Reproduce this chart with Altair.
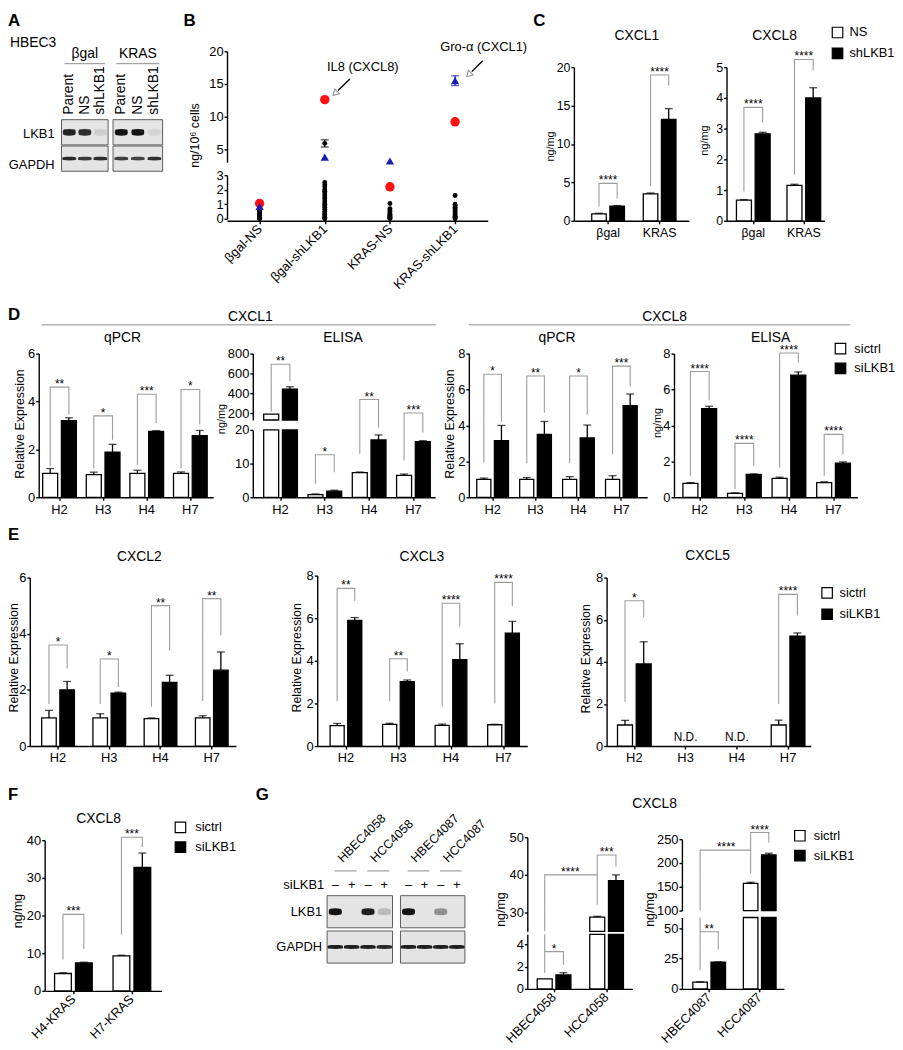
import altair as alt
import pandas as pd

OFF = 8
W, H = 895, 1042
FONT = "Liberation Sans"
BRK = "#9c9c9c"
ONE = pd.DataFrame({"k": [0]})

# ------------------------------------------------------------------ DATA
# A : western blot, relative band intensity per lane
A_GROUPS = ["βgal", "KRAS"]
A_LANES = ["Parent", "NS", "shLKB1"]
A_LKB1 = [[0.92, 0.88, 0.10], [1.0, 1.0, 0.08]]
A_GAPDH = [[0.90, 0.82, 0.88], [0.80, 0.78, 0.88]]

# B : cytokine array (ng/10^6 cells)
B_CATS = ["βgal-NS", "βgal-shLKB1", "KRAS-NS", "KRAS-shLKB1"]
B_OTHER = [
    [0.0, 0.03, 0.06, 0.1, 0.14, 0.18, 0.22, 0.28, 0.34, 0.4, 0.46, 0.52, 0.6, 0.7, 0.8],
    [0.0, 0.05, 0.1, 0.2, 0.3, 0.4, 0.5, 0.65, 0.8, 0.9, 1.0, 1.1, 1.25, 1.4, 1.5,
     1.65, 1.8, 1.9, 2.0, 2.2, 2.35, 2.5, 5.9],
    [0.0, 0.04, 0.08, 0.12, 0.18, 0.25, 0.32, 0.4, 0.5, 0.6, 0.7, 1.05],
    [0.0, 0.05, 0.1, 0.15, 0.2, 0.3, 0.4, 0.5, 0.6, 0.7, 0.8, 0.9, 1.0, 1.6],
]
B_OTHER_ERR_CAT = ["βgal-shLKB1"]
B_OTHER_ERR_MEAN = [5.9]
B_OTHER_ERR_SD = [0.55]
B_IL8 = [1.05, 12.6, 2.2, 9.2]
B_GRO = [0.85, 3.8, 3.2, 15.5]
B_GRO_SD = [0.0, 0.0, 0.0, 0.75]

# C : ELISA HBEC3
C_CATS = ["βgal", "KRAS"]
C_SERS = ["NS", "shLKB1"]
C1_NS, C1_NS_SD = [0.9, 3.5], [0.08, 0.12]
C1_SH, C1_SH_SD = [1.9, 13.2], [0.08, 1.4]
C1_BR = [("βgal", 4.87, 1.85, 2.9, "****"), ("KRAS", 18.97, 4.5, 17.6, "****")]
C8_NS, C8_NS_SD = [0.67, 1.15], [0.02, 0.04]
C8_SH, C8_SH_SD = [2.83, 4.0], [0.05, 0.33]
C8_BR = [("βgal", 3.69, 0.95, 3.2, "****"), ("KRAS", 5.25, 1.5, 4.9, "****")]

# D
H_CATS = ["H2", "H3", "H4", "H7"]
SI_SERS = ["sictrl", "siLKB1"]
D1Q_C, D1Q_C_SD = [1.0, 0.95, 1.0, 1.0], [0.2, 0.1, 0.13, 0.06]
D1Q_S, D1Q_S_SD = [3.2, 1.88, 2.75, 2.57], [0.12, 0.33, 0.03, 0.22]
D1Q_BR = [("H2", 4.6, 1.3, 3.45, "**"), ("H3", 3.4, 1.2, 2.4, "*"),
          ("H4", 4.3, 1.35, 3.1, "***"), ("H7", 4.5, 1.2, 3.05, "*")]
D1E_C, D1E_C_SD = [190.0, 0.8, 7.3, 6.5], [0.0, 0.2, 0.2, 0.4]
D1E_S, D1E_S_SD = [440.0, 1.8, 17.0, 16.5], [25.0, 0.3, 1.5, 0.3]
D1E_BR_LOW = [("H3", 12.6, 4.1, 7.4, "*"), ("H4", 29.0, 12.9, 20.6, "**"),
              ("H7", 25.0, 10.9, 19.2, "***")]
D1E_BR_UP = [("H2", 693.0, 215.0, 520.0, "**")]
D8Q_C, D8Q_C_SD = [1.0, 1.0, 1.0, 1.0], [0.07, 0.1, 0.15, 0.2]
D8Q_S, D8Q_S_SD = [3.15, 3.5, 3.3, 5.1], [0.85, 0.72, 0.72, 0.65]
D8Q_BR = [("H2", 6.85, 1.93, 4.2, "*"), ("H3", 6.75, 1.9, 4.7, "**"),
          ("H4", 6.75, 1.9, 4.6, "*"), ("H7", 7.3, 2.4, 6.15, "***")]
D8E_C, D8E_C_SD = [0.78, 0.22, 1.05, 0.82], [0.04, 0.03, 0.07, 0.04]
D8E_S, D8E_S_SD = [4.93, 1.27, 6.8, 1.9], [0.14, 0.03, 0.18, 0.07]
D8E_BR = [("H2", 7.0, 1.2, 5.4, "****"), ("H3", 3.0, 0.46, 1.75, "****"),
          ("H4", 8.03, 1.65, 7.5, "****"), ("H7", 3.5, 1.2, 2.4, "****")]

# E
E2_C, E2_C_SD = [1.0, 1.0, 0.98, 1.0], [0.27, 0.15, 0.02, 0.08]
E2_S, E2_S_SD = [2.0, 1.88, 2.27, 2.7], [0.3, 0.04, 0.25, 0.65]
E2_BR = [("H2", 3.6, 1.5, 2.76, "*"), ("H3", 3.1, 1.5, 2.1, "*"),
         ("H4", 5.0, 1.4, 3.4, "**"), ("H7", 5.25, 1.6, 3.95, "**")]
E3_C, E3_C_SD = [0.96, 1.02, 0.97, 1.0], [0.1, 0.05, 0.06, 0.02]
E3_S, E3_S_SD = [5.9, 3.02, 4.05, 5.3], [0.13, 0.08, 0.75, 0.55]
E3_BR = [("H2", 7.4, 2.1, 6.8, "**"), ("H3", 4.1, 2.1, 3.5, "**"),
         ("H4", 6.7, 1.85, 5.6, "****"), ("H7", 7.68, 2.0, 6.56, "****")]
E5_C, E5_C_SD = [1.0, None, None, 1.0], [0.22, 0.0, 0.0, 0.23]
E5_S, E5_S_SD = [3.9, None, None, 5.22], [1.05, 0.0, 0.0, 0.15]
E5_BR = [("H2", 6.9, 2.1, 6.1, "*"), ("H7", 7.2, 2.0, 6.2, "****")]
E5_ND = [("H3", 0.42, "N.D."), ("H4", 0.42, "N.D.")]

# F
F_CATS = ["H4-KRAS", "H7-KRAS"]
F_C, F_C_SD = [4.6, 9.3], [0.2, 0.15]
F_S, F_S_SD = [7.4, 32.8], [0.2, 3.8]
F_BR = [("H4-KRAS", 20.3, 8.3, 11.1, "***"), ("H7-KRAS", 40.8, 14.9, 38.2, "***")]

# G
G_CELLS = ["HBEC4058", "HCC4058", "HBEC4087", "HCC4087"]
G_SI = ["–", "+", "–", "+"]
G_LKB1 = [[1.0, 0.0, 0.95, 0.2], [1.0, 0.0, 0.4, 0.0]]
G_GAPDH = [[0.95, 0.95, 0.95, 0.9], [0.95, 0.95, 0.95, 0.95]]
GL_CATS = ["HBEC4058", "HCC4058"]
GL_C, GL_C_SD = [0.9, 28.8], [0.0, 0.2]
GL_S, GL_S_SD = [1.25, 38.5], [0.2, 1.5]
GL_BR_LOW = [("HBEC4058", 3.35, 1.42, 2.16, "*")]
GL_POLY_LOW = [dict(pts=[("HBEC4058", 0, 4.9), ("HBEC4058", 0, 3.35)])]
GL_BR_UP = [("HCC4058", 45.3, 40.0, 42.2, "***")]
GL_POLY_UP = [dict(pts=[("HBEC4058", 0, 25.0), ("HBEC4058", 0, 40.0),
                        ("HCC4058", 0, 40.0), ("HCC4058", 0, 32.1)],
                   lab="****", star=("HBEC4058", 1, 40.0, 7))]
GR_CATS = ["HBEC4087", "HCC4087"]
GR_C, GR_C_SD = [5.5, 157.0], [0.3, 2.5]
GR_S, GR_S_SD = [22.0, 217.0], [0.3, 3.5]
GR_BR_LOW = [("HBEC4087", 47.2, 15.5, 32.6, "**")]
GR_POLY_LOW = [dict(pts=[("HBEC4087", 0, 59.0), ("HBEC4087", 0, 47.2)])]
GR_BR_UP = [("HCC4087", 264.0, 227.0, 243.0, "****")]
GR_POLY_UP = [dict(pts=[("HBEC4087", 0, 100.0), ("HBEC4087", 0, 227.0),
                        ("HCC4087", 0, 227.0), ("HCC4087", 0, 178.5)],
                   lab="****", star=("HBEC4087", 1, 227.0, 8))]


# ------------------------------------------------------------------ helpers
def P(v):
    return v - OFF


AX = dict(domainColor="black", tickColor="black", labelColor="black", domainWidth=1.4,
          tickWidth=1.4, tickSize=3, labelFont=FONT, grid=False,
          title=None, labelOverlap=False)


def xaxis(yb, angle=0, size=13):
    kw = dict(AX)
    if angle:
        kw.update(labelAngle=angle, labelAlign="right", labelBaseline="middle", labelPadding=3)
    else:
        kw.update(labelAngle=0, labelAlign="center", labelBaseline="top", labelPadding=3)
    return alt.Axis(orient="bottom", offset=P(yb) - H, labelFontSize=size, **kw)


def yaxis(x0, ticks, size=13):
    return alt.Axis(orient="left", offset=-P(x0), values=ticks, format="d", labelPadding=1,
                    labelFontSize=size, **AX)


def T(t, x, y, size=13, align="center", baseline="middle", angle=0, weight="normal", color="black"):
    return alt.Chart(ONE).mark_text(text=t, fontSize=size, align=align, baseline=baseline,
                                    angle=angle, fontWeight=weight, color=color, font=FONT).encode(
        x=alt.value(P(x)), y=alt.value(P(y)))


def LINE(x1, y1, x2, y2, color="#8c8c8c", width=1.0):
    return alt.Chart(ONE).mark_rule(color=color, strokeWidth=width).encode(
        x=alt.value(P(x1)), y=alt.value(P(y1)), x2=alt.value(P(x2)), y2=alt.value(P(y2)))


def swatch(x, y, fill):
    return alt.Chart(ONE).mark_square(size=112, color=fill, stroke="black", strokeWidth=1.2,
                                      opacity=1, filled=True).encode(x=alt.value(P(x)), y=alt.value(P(y)))


def legend(xc, y0, y1, tx, labels):
    return [swatch(xc, y0, "white"), swatch(xc, y1, "black"),
            T(labels[0], tx, y0, 13, align="left"), T(labels[1], tx, y1, 13, align="left")]


def band_params(x0, x1, n, c0, s, w):
    pi = 1 - w / s
    span = x1 - x0
    po = max(0.0, (span / s - n + pi) / 2)
    total = span - s * (n - pi)
    left = c0 - w / 2 - x0
    al = min(1.0, max(0.0, left / total)) if total > 0 else 0.5
    return pi, po, al


def bar_panel(cats, sers, s0, e0, s1, e1, geom, segs, angle=0, nd=None, fs=13):
    x0, x1, c0, s, w = geom
    pi, po, al = band_params(x0, x1, len(cats), c0, s, w)
    xs = alt.Scale(domain=cats, range=[P(x0), P(x1)], paddingInner=pi, paddingOuter=po, align=al)
    xo = alt.Scale(domain=sers, paddingInner=0.2, paddingOuter=0)
    recs = []
    for i, c in enumerate(cats):
        for ser, vs, es in ((sers[0], s0, e0), (sers[1], s1, e1)):
            if vs[i] is not None:
                recs.append((c, ser, vs[i], es[i]))
    charts = []
    nseg = len(segs)
    for k, sg in enumerate(segs):
        lo, hi = sg["dom"]
        top = k == nseg - 1
        ysc = alt.Scale(domain=[lo, hi], range=[P(sg["yb"]), P(sg["yt"])], nice=False, zero=False)
        yax = yaxis(x0, sg["ticks"], fs)
        X = alt.X("cat:N", scale=xs, axis=xaxis(sg["yb"], angle, fs) if k == 0 else None)
        XO = alt.XOffset("ser:N", scale=xo)
        Yv = alt.Y("v:Q", scale=ysc, axis=yax)
        Yv2 = alt.Y("v2:Q", scale=ysc, axis=yax)
        lay = []
        bars = [dict(cat=c, ser=sr, v=(v if top else min(v, hi)), v2=lo)
                for c, sr, v, e in recs if v > lo]
        if bars:
            lay.append(alt.Chart(pd.DataFrame(bars)).mark_bar(stroke="black", strokeWidth=1.3).encode(
                x=X, xOffset=XO, y=Yv, y2="v2:Q",
                fill=alt.condition(alt.datum.ser == sers[0], alt.value("white"), alt.value("black"))))
        errs = [dict(cat=c, ser=sr, v=v, v2=v + e) for c, sr, v, e in recs
                if e > 0 and v >= lo and (top or v + e <= hi)]
        if errs:
            d = pd.DataFrame(errs)
            lay.append(alt.Chart(d).mark_rule(color="black", strokeWidth=1.3).encode(
                x=X, xOffset=XO, y=Yv, y2="v2:Q"))
            lay.append(alt.Chart(d).mark_tick(color="black", thickness=1.3, size=8,
                                              orient="horizontal").encode(x=X, xOffset=XO, y=Yv2))
        pts, stars = [], []
        for b, (c, t, lft, rgt, lab) in enumerate(sg.get("br", [])):
            for o, (sr, v) in enumerate([(sers[0], lft), (sers[0], t), (sers[1], t), (sers[1], rgt)]):
                pts.append(dict(bid="b%d" % b, o=o, cat=c, ser=sr, v=v))
            stars.append(dict(cat=c, v=t, lab=lab))
        for b, poly in enumerate(sg.get("poly", [])):
            for o, (c, si, v) in enumerate(poly["pts"]):
                pts.append(dict(bid="p%d" % b, o=o, cat=c, ser=sers[si], v=v))
        if pts:
            lay.append(alt.Chart(pd.DataFrame(pts)).mark_line(color=BRK, strokeWidth=1.1).encode(
                x=X, xOffset=XO, y=Yv, detail="bid:N", order="o:Q"))
        if stars:
            lay.append(alt.Chart(pd.DataFrame(stars)).mark_text(
                fontSize=12, baseline="alphabetic", dy=1, font=FONT, color="black").encode(
                x=X, y=Yv, text="lab:N"))
        for poly in sg.get("poly", []):
            if poly.get("lab"):
                c, si, v, dx = poly["star"]
                lay.append(alt.Chart(pd.DataFrame([dict(cat=c, ser=sers[si], v=v, lab=poly["lab"])])).mark_text(
                    fontSize=12, baseline="alphabetic", dy=1, dx=dx, font=FONT, color="black").encode(
                    x=X, xOffset=XO, y=Yv, text="lab:N"))
        if nd and k == 0:
            lay.append(alt.Chart(pd.DataFrame([dict(cat=c, v=v, lab=t) for c, v, t in nd])).mark_text(
                fontSize=12, font=FONT, color="black").encode(x=X, y=Yv, text="lab:N"))
        charts.append(alt.layer(*lay))
    return charts


SH_THICK = ("M-0.85,-0.42 C-0.3,-0.56 0.3,-0.56 0.85,-0.42 C1.05,-0.3 1.05,0.3 0.85,0.42 "
            "C0.3,0.56 -0.3,0.56 -0.85,0.42 C-1.05,0.3 -1.05,-0.3 -0.85,-0.42 Z")
SH_THIN = ("M-0.9,-0.2 C-0.3,-0.28 0.3,-0.28 0.9,-0.2 C1.02,-0.1 1.02,0.1 0.9,0.2 "
           "C0.3,0.28 -0.3,0.28 -0.9,0.2 C-1.02,0.1 -1.02,-0.1 -0.9,-0.2 Z")


def blot_box(x0, x1, yt, yb, gap, lkb1, gapdh, sz1, sz2):
    n = len(lkb1)
    xs = alt.Scale(domain=[-0.5, n - 0.5], range=[P(x0), P(x1)], nice=False, zero=False)
    ys = alt.Scale(domain=["LKB1", "GAPDH"], range=[P(yt), P(yb)], paddingInner=gap, paddingOuter=0)
    box = pd.DataFrame({"row": ["LKB1", "GAPDH"], "lo": [-0.5, -0.5], "hi": [n - 0.5, n - 0.5]})
    lay = [alt.Chart(box).mark_rect(fill="#e4e4e4", stroke="#5a5a5a", strokeWidth=1).encode(
        x=alt.X("lo:Q", scale=xs, axis=None), x2="hi:Q", y=alt.Y("row:N", scale=ys, axis=None))]
    for row, vals, shape, size in (("LKB1", lkb1, SH_THICK, sz1), ("GAPDH", gapdh, SH_THIN, sz2)):
        d = pd.DataFrame({"lane": list(range(n)), "row": [row] * n, "a": vals})
        lay.append(alt.Chart(d).mark_point(shape=shape, filled=True, size=size, color="#141414",
                                           strokeWidth=0).encode(
            x=alt.X("lane:Q", scale=xs, axis=None), y=alt.Y("row:N", scale=ys, axis=None),
            opacity=alt.Opacity("a:Q", scale=None)))
    return lay, xs


layers = []

# ------------------------------------------------------------------ panel letters
for let, x, y in (("A", 8, 21), ("B", 185, 21), ("C", 538, 21), ("D", 8, 318),
                  ("E", 8, 540), ("F", 8, 802), ("G", 258, 802)):
    layers.append(T(let, x, y, 17, align="left", baseline="alphabetic", weight="bold"))

# ------------------------------------------------------------------ A
layers.append(T("HBEC3", 10, 43, 14, align="left", baseline="alphabetic"))
layers.append(T("LKB1", 55, 130, 13, align="right"))
layers.append(T("GAPDH", 55, 162, 13, align="right"))
for gi, (bx0, bx1) in enumerate(((62, 109), (114, 164))):
    lay, xs = blot_box(bx0, bx1, 116, 168, 0.04, A_LKB1[gi], A_GAPDH[gi], 170, 200)
    n = len(A_LANES)
    lay.append(alt.Chart(pd.DataFrame({"lane": list(range(n)), "lab": A_LANES})).mark_text(
        angle=270, align="left", baseline="middle", fontSize=14, font=FONT, color="black").encode(
        x=alt.X("lane:Q", scale=xs, axis=None), y=alt.value(P(111)), text="lab:N"))
    lay.append(alt.Chart(pd.DataFrame({"lane": [1], "lab": [A_GROUPS[gi]]})).mark_text(
        fontSize=14, font=FONT, color="black").encode(
        x=alt.X("lane:Q", scale=xs, axis=None), y=alt.value(P(50)), text="lab:N"))
    lay.append(alt.Chart(pd.DataFrame({"lo": [-0.3], "hi": [n - 0.7]})).mark_rule(
        color="#8c8c8c", strokeWidth=1).encode(
        x=alt.X("lo:Q", scale=xs, axis=None), x2="hi:Q", y=alt.value(P(59.5))))
    layers.append(alt.layer(*lay))

# ------------------------------------------------------------------ B
def b_panel():
    xs = alt.Scale(domain=B_CATS, range=[P(229), P(492)], paddingInner=0, paddingOuter=0)
    segs = [dict(dom=(0, 3), yb=216, yt=172, ticks=[0, 1, 2, 3]),
            dict(dom=(3, 20), yb=159, yt=47, ticks=[5, 10, 15, 20])]
    others = [dict(cat=c, v=v) for c, vs in zip(B_CATS, B_OTHER) for v in vs]
    il8 = [dict(cat=c, v=v) for c, v in zip(B_CATS, B_IL8)]
    gro = [dict(cat=c, v=v) for c, v in zip(B_CATS, B_GRO)]
    errs = [dict(cat=c, v=m - e, v2=m + e, col="black")
            for c, m, e in zip(B_OTHER_ERR_CAT, B_OTHER_ERR_MEAN, B_OTHER_ERR_SD)]
    errs += [dict(cat=c, v=m - e, v2=m + e, col="#1c1cb0")
             for c, m, e in zip(B_CATS, B_GRO, B_GRO_SD) if e > 0]
    out = []
    for k, sg in enumerate(segs):
        lo, hi = sg["dom"]
        if k == 0:
            inside = lambda v, hi=hi: v <= hi
        else:
            inside = lambda v, lo=lo: v > lo
        ysc = alt.Scale(domain=[lo, hi], range=[P(sg["yb"]), P(sg["yt"])], nice=False, zero=False)
        yax = yaxis(229, sg["ticks"])
        X = alt.X("cat:N", scale=xs, axis=xaxis(218, 315) if k == 0 else None)
        Yv = alt.Y("v:Q", scale=ysc, axis=yax)
        Yv2 = alt.Y("v2:Q", scale=ysc, axis=yax)
        lay = []
        e_in = [r for r in errs if inside(r["v"])]
        if e_in:
            d = pd.DataFrame(e_in)
            lay.append(alt.Chart(d).mark_rule(strokeWidth=1.3).encode(
                x=X, y=Yv, y2="v2:Q", color=alt.Color("col:N", scale=None)))
            lay.append(alt.Chart(d).mark_tick(thickness=1.3, size=8, orient="horizontal").encode(
                x=X, y=Yv, color=alt.Color("col:N", scale=None)))
            lay.append(alt.Chart(d).mark_tick(thickness=1.3, size=8, orient="horizontal").encode(
                x=X, y=Yv2, color=alt.Color("col:N", scale=None)))
        o_in = [r for r in others if inside(r["v"])]
        lay.append(alt.Chart(pd.DataFrame(o_in)).mark_circle(size=24, color="black", opacity=1).encode(x=X, y=Yv))
        r_in = [r for r in il8 if inside(r["v"])]
        if r_in:
            lay.append(alt.Chart(pd.DataFrame(r_in)).mark_circle(size=90, color="#ff1010", opacity=1).encode(x=X, y=Yv))
        b_in = [r for r in gro if inside(r["v"])]
        if b_in:
            lay.append(alt.Chart(pd.DataFrame(b_in)).mark_point(shape="triangle-up", filled=True, size=70,
                                                                color="#1c1cb0", opacity=1).encode(x=X, y=Yv))
        out.append(alt.layer(*lay))
    return out


layers += b_panel()
layers.append(T("ng/10⁶ cells", 197, 132, 12.5, angle=270))
layers.append(T("IL8 (CXCL8)", 366, 63, 13))
layers.append(LINE(353, 75, 341, 86.5, color="black", width=1.4))
layers.append(alt.Chart(ONE).mark_point(shape="triangle-up", angle=225, size=45, filled=True, color="white",
                                        stroke="#8a8a8a", strokeWidth=1, opacity=1).encode(
    x=alt.value(P(338)), y=alt.value(P(89.5))))
layers.append(T("Gro-α (CXCL1)", 488, 43, 13))
layers.append(LINE(487, 56.5, 476, 67.5, color="black", width=1.4))
layers.append(alt.Chart(ONE).mark_point(shape="triangle-up", angle=225, size=45, filled=True, color="white",
                                        stroke="#8a8a8a", strokeWidth=1, opacity=1).encode(
    x=alt.value(P(473)), y=alt.value(P(70.5))))

# ------------------------------------------------------------------ C
layers += bar_panel(C_CATS, C_SERS, C1_NS, C1_NS_SD, C1_SH, C1_SH_SD, (579, 695, 613.5, 52, 33),
                    [dict(dom=(0, 20), yb=218, yt=63, ticks=[0, 5, 10, 15, 20], br=C1_BR)], fs=12.5)
layers += bar_panel(C_CATS, C_SERS, C8_NS, C8_NS_SD, C8_SH, C8_SH_SD, (733, 832, 760, 51, 34),
                    [dict(dom=(0, 5), yb=218, yt=63, ticks=[0, 1, 2, 3, 4, 5], br=C8_BR)], fs=12.5)
layers.append(T("CXCL1", 642.5, 31.5, 14))
layers.append(T("CXCL8", 781.5, 31.5, 14))
layers.append(T("ng/mg", 556, 143, 11, angle=270))
layers.append(T("ng/mg", 711, 137, 11, angle=270))
layers += legend(845, 28, 49, 857, C_SERS)

# ------------------------------------------------------------------ D
layers.append(T("CXCL1", 252.5, 315.5, 14))
layers.append(LINE(42, 323, 440, 323))
layers.append(T("qPCR", 123.5, 336, 14))
layers.append(T("ELISA", 346, 336, 14))
layers.append(T("CXCL8", 670.5, 315.5, 14))
layers.append(LINE(473, 323, 858, 323))
layers.append(T("qPCR", 562, 336, 14))
layers.append(T("ELISA", 777.5, 336, 14))
layers += bar_panel(H_CATS, SI_SERS, D1Q_C, D1Q_C_SD, D1Q_S, D1Q_S_SD, (39, 215, 60, 44, 34),
                    [dict(dom=(0, 6), yb=497, yt=352, ticks=[0, 2, 4, 6], br=D1Q_BR)])
layers += bar_panel(H_CATS, SI_SERS, D1E_C, D1E_C_SD, D1E_S, D1E_S_SD, (255, 439, 283, 44.7, 34),
                    [dict(dom=(0, 20), yb=497, yt=429, ticks=[0, 10, 20], br=D1E_BR_LOW),
                     dict(dom=(130, 800), yb=419, yt=352, ticks=[200, 400, 600, 800], br=D1E_BR_UP)])
layers += bar_panel(H_CATS, SI_SERS, D8Q_C, D8Q_C_SD, D8Q_S, D8Q_S_SD, (473, 653, 497, 43.3, 32),
                    [dict(dom=(0, 8), yb=497, yt=352, ticks=[0, 2, 4, 6, 8], br=D8Q_BR)])
layers += bar_panel(H_CATS, SI_SERS, D8E_C, D8E_C_SD, D8E_S, D8E_S_SD, (680, 865, 706, 45, 34),
                    [dict(dom=(0, 8), yb=497, yt=352, ticks=[0, 2, 4, 6, 8], br=D8E_BR)])
layers.append(T("Relative Expression", 20, 423, 12.5, angle=270))
layers.append(T("ng/mg", 224, 418, 11, angle=270))
layers.append(T("Relative Expression", 454, 423, 12.5, angle=270))
layers.append(T("ng/mg", 664, 422, 11, angle=270))
layers += legend(848, 347, 367, 862, SI_SERS)

# ------------------------------------------------------------------ E
layers.append(T("CXCL2", 140.5, 557, 14))
layers.append(T("CXCL3", 425.5, 557, 14))
layers.append(T("CXCL5", 714, 556.5, 14))
layers += bar_panel(H_CATS, SI_SERS, E2_C, E2_C_SD, E2_S, E2_S_SD, (30, 238, 58.5, 51.7, 33),
                    [dict(dom=(0, 6), yb=748, yt=578, ticks=[0, 2, 4, 6], br=E2_BR)])
layers += bar_panel(H_CATS, SI_SERS, E3_C, E3_C_SD, E3_S, E3_S_SD, (320, 532, 349, 53, 32),
                    [dict(dom=(0, 8), yb=748, yt=576, ticks=[0, 2, 4, 6, 8], br=E3_BR)])
layers += bar_panel(H_CATS, SI_SERS, E5_C, E5_C_SD, E5_S, E5_S_SD, (612, 818, 640, 51.7, 34),
                    [dict(dom=(0, 8), yb=748, yt=578, ticks=[0, 2, 4, 6, 8], br=E5_BR)], nd=E5_ND)
layers.append(T("Relative Expression", 14, 659, 12.5, angle=270))
layers.append(T("Relative Expression", 299.5, 659, 12.5, angle=270))
layers.append(T("Relative Expression", 591.5, 660, 12.5, angle=270))
layers += legend(834.5, 593.5, 615, 847, SI_SERS)

# ------------------------------------------------------------------ F
layers.append(T("CXCL8", 99.5, 822, 14))
layers += bar_panel(F_CATS, SI_SERS, F_C, F_C_SD, F_S, F_S_SD, (45, 163, 74, 59, 38),
                    [dict(dom=(0, 40), yb=995, yt=843, ticks=[0, 10, 20, 30, 40], br=F_BR)], angle=315)
layers.append(T("ng/mg", 18, 914.5, 12.5, angle=270))
layers += legend(182, 830, 850, 197, SI_SERS)

# ------------------------------------------------------------------ G blot
layers.append(T("siLKB1", 327, 888, 13, align="right"))
layers.append(T("LKB1", 325, 915, 13, align="right"))
layers.append(T("GAPDH", 325, 951, 13, align="right"))
for gi, (bx0, bx1) in enumerate(((330, 396), (404, 469))):
    lay, xs = blot_box(bx0, bx1, 899, 967, 0.09, G_LKB1[gi], G_GAPDH[gi], 175, 250)
    n = len(G_SI)
    lay.append(alt.Chart(pd.DataFrame({"lane": list(range(n)), "lab": G_SI})).mark_text(
        fontSize=13, font=FONT, color="black").encode(
        x=alt.X("lane:Q", scale=xs, axis=None), y=alt.value(P(888)), text="lab:N"))
    pair = pd.DataFrame({"lane": [0.45, 2.45], "lo": [-0.05, 1.95], "hi": [1.3, 3.3],
                         "lab": G_CELLS[2 * gi:2 * gi + 2]})
    lay.append(alt.Chart(pair).mark_text(angle=315, align="left", baseline="alphabetic", fontSize=12.5,
                                         font=FONT, color="black").encode(
        x=alt.X("lane:Q", scale=xs, axis=None), y=alt.value(P(866)), text="lab:N"))
    lay.append(alt.Chart(pair).mark_rule(color="#8c8c8c", strokeWidth=1).encode(
        x=alt.X("lo:Q", scale=xs, axis=None), x2="hi:Q", y=alt.value(P(874))))
    layers.append(alt.layer(*lay))

# ------------------------------------------------------------------ G bars
layers.append(T("CXCL8", 660.5, 807, 14))
layers += bar_panel(GL_CATS, SI_SERS, GL_C, GL_C_SD, GL_S, GL_S_SD, (532, 638, 559, 53, 34),
                    [dict(dom=(0, 4.9), yb=993, yt=938, ticks=[0, 2, 4], br=GL_BR_LOW, poly=GL_POLY_LOW),
                     dict(dom=(25, 50), yb=935, yt=840, ticks=[30, 40, 50], br=GL_BR_UP, poly=GL_POLY_UP)],
                    angle=315)
layers += bar_panel(GR_CATS, SI_SERS, GR_C, GR_C_SD, GR_S, GR_S_SD, (688, 791, 715.5, 51, 33),
                    [dict(dom=(0, 59), yb=993, yt=921, ticks=[0, 25, 50], br=GR_BR_LOW, poly=GR_POLY_LOW),
                     dict(dom=(100, 250), yb=914, yt=842, ticks=[100, 150, 200, 250], br=GR_BR_UP,
                          poly=GR_POLY_UP)],
                    angle=315)
layers.append(T("ng/mg", 505, 913, 12.5, angle=270))
layers.append(T("ng/mg", 655.5, 913, 12.5, angle=270))
layers += legend(807, 838.5, 858.5, 821, SI_SERS)

chart = alt.layer(*layers).resolve_scale(
    x="independent", y="independent", xOffset="independent"
).properties(
    width=W, height=H, padding=0, autosize=alt.AutoSizeParams(type="none")
).configure(font=FONT).configure_view(strokeWidth=0)

chart.save("out.html", embed_options={"renderer": "svg", "actions": False})
